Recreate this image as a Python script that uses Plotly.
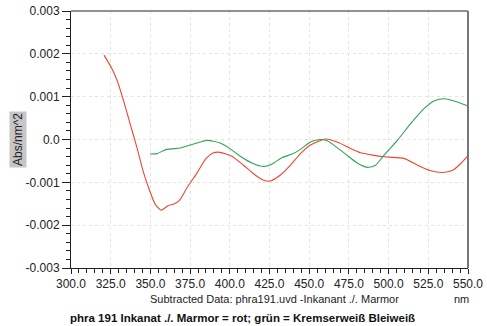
import plotly.graph_objects as go

# Difference spectra (nm vs Abs/nm^2)
red_nm = [320.8, 325.7, 328.8, 333.0, 337.2, 341.4, 345.6, 349.8, 353.0, 356.8,
          361.4, 364.5, 368.3, 373.3, 379.2, 385.1, 389.7, 393.9, 401.3, 408.6,
          416.0, 421.3, 425.5, 431.9, 438.2, 444.5, 450.8, 460.3, 467.6, 476.1,
          482.4, 490.8, 499.2, 509.7, 518.2, 526.6, 534.0, 540.3, 545.5, 549.7]
red_abs = [0.00197, 0.00166, 0.00140, 0.00092, 0.00037, -0.00017, -0.00076, -0.00122, -0.00151, -0.00165,
           -0.00154, -0.00151, -0.00142, -0.00111, -0.00079, -0.00044, -0.00031, -0.00030, -0.00039, -0.00060,
           -0.00083, -0.00095, -0.00097, -0.00083, -0.00060, -0.00033, -0.00013, 0.00001, -0.00006, -0.00021,
           -0.00031, -0.00037, -0.00041, -0.00044, -0.00060, -0.00073, -0.00077, -0.00072, -0.00056, -0.00039]

green_nm = [349.8, 354.0, 360.3, 368.8, 375.1, 381.4, 385.6, 389.7, 393.9, 399.2,
            406.6, 414.0, 419.2, 423.5, 427.7, 433.0, 439.3, 444.5, 450.8, 457.1,
            461.3, 467.6, 473.9, 480.2, 486.5, 491.8, 497.0, 505.5, 513.9, 522.3,
            528.6, 534.9, 541.2, 549.7]
green_abs = [-0.00034, -0.00033, -0.00023, -0.00020, -0.00013, -0.00006, -0.00002, -0.00004, -0.00008, -0.00019,
             -0.00039, -0.00055, -0.00062, -0.00062, -0.00055, -0.00042, -0.00034, -0.00023, -0.00006, 0.00000,
             -0.00003, -0.00019, -0.00037, -0.00055, -0.00065, -0.00060, -0.00037, -0.00002, 0.00037, 0.00072,
             0.00090, 0.00095, 0.00090, 0.00079]

x_ticks = [300, 325, 350, 375, 400, 425, 450, 475, 500, 525, 550]
y_ticks = [0.003, 0.002, 0.001, 0.0, -0.001, -0.002, -0.003]
y_tick_text = ["0.003", "0.002", "0.001", "0.0", "-0.001", "-0.002", "-0.003"]

FONT = "Liberation Sans, Arial, sans-serif"

fig = go.Figure()
fig.add_trace(go.Scatter(x=red_nm, y=red_abs, mode="lines",
                         line=dict(color="#f0452f", width=1.1, shape="spline", smoothing=0.6)))
fig.add_trace(go.Scatter(x=green_nm, y=green_abs, mode="lines",
                         line=dict(color="#2ea454", width=1.1, shape="spline", smoothing=0.6)))

fig.update_layout(
    width=487, height=326,
    margin=dict(l=71, r=19, t=11, b=58, autoexpand=False),
    paper_bgcolor="white", plot_bgcolor="white",
    showlegend=False,
    font=dict(family=FONT, size=12, color="#222222"),
)

fig.update_xaxes(
    range=[300, 550], tickvals=x_ticks, ticktext=[f"{v:.1f}" for v in x_ticks],
    automargin=False,
    showline=True, linecolor="#222222", linewidth=1,
    ticks="outside", ticklen=5, tickcolor="#222222",
    minor=dict(dtick=5, tick0=300, ticks="outside", ticklen=4, tickcolor="#222222", showgrid=False),
    showgrid=True, gridcolor="#e4e4e4", griddash="dot", gridwidth=1,
    zeroline=False, tickfont=dict(size=12),
)
fig.update_yaxes(
    range=[-0.003, 0.003], tickvals=y_ticks, ticktext=y_tick_text,
    automargin=False,
    showline=True, linecolor="#222222", linewidth=1,
    ticks="outside", ticklen=8, tickcolor="#222222",
    minor=dict(dtick=0.0002, tick0=0, ticks="outside", ticklen=4, tickcolor="#222222", showgrid=False),
    showgrid=True, gridcolor="#e4e4e4", griddash="dot", gridwidth=1,
    zeroline=False, tickfont=dict(size=12),
)

# frame: top and right edges
fig.add_shape(type="line", xref="paper", yref="paper", x0=0, x1=1, y0=1, y1=1,
              line=dict(color="#222222", width=1))
fig.add_shape(type="line", xref="paper", yref="paper", x0=1, x1=1, y0=0, y1=1,
              line=dict(color="#777777", width=2))

# axis titles and caption
fig.add_annotation(text="Abs/nm^2", textangle=-90, xref="paper", yref="paper",
                   x=-0.1335, y=0.498, xanchor="center", yanchor="middle", showarrow=False,
                   bgcolor="#c6c6c6", borderpad=1, font=dict(size=12, color="#222222"))
fig.add_annotation(text="Subtracted Data: phra191.uvd -Inkanant ./. Marmor",
                   xref="paper", yref="paper", x=(274 - 71) / 397, y=-(299 - 268) / 257,
                   xanchor="center", yanchor="middle", showarrow=False,
                   font=dict(size=11, color="#222222"))
fig.add_annotation(text="nm", xref="paper", yref="paper", x=(461.5 - 71) / 397, y=-(299 - 268) / 257,
                   xanchor="center", yanchor="middle", showarrow=False,
                   font=dict(size=11, color="#222222"))
fig.add_annotation(text="<b>phra 191 Inkanat ./. Marmor = rot; grün = Kremserweiß Bleiweiß</b>",
                   xref="paper", yref="paper", x=(242 - 71) / 397, y=-(318 - 268) / 257,
                   xanchor="center", yanchor="middle", showarrow=False,
                   font=dict(size=11.5, color="#111111"))

fig.write_html("out.html")
